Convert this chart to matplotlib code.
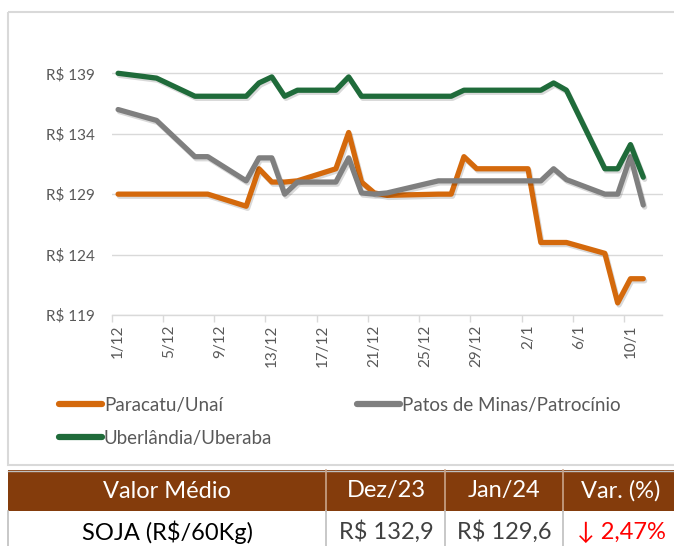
import pandas as pd
import matplotlib.pyplot as plt
import matplotlib.patheffects as pe
from matplotlib.lines import Line2D
from matplotlib.patches import Rectangle

# business days with quotes (Dec/23 - Jan/24)
dias = ["2023-12-01", "2023-12-04", "2023-12-05", "2023-12-06", "2023-12-07", "2023-12-08",
        "2023-12-11", "2023-12-12", "2023-12-13", "2023-12-14", "2023-12-15",
        "2023-12-18", "2023-12-19", "2023-12-20", "2023-12-21", "2023-12-22",
        "2023-12-26", "2023-12-27", "2023-12-28", "2023-12-29",
        "2024-01-02", "2024-01-03", "2024-01-04", "2024-01-05",
        "2024-01-08", "2024-01-09", "2024-01-10", "2024-01-11"]

paracatu = [129.0, 129.0, 129.0, 129.0, 129.0, 129.0,
            128.0, 131.1, 130.0, 130.0, 130.1,
            131.1, 134.1, 130.0, 129.1, 128.9,
            129.0, 129.0, 132.1, 131.1,
            131.1, 125.0, 125.0, 125.0,
            124.1, 120.0, 122.0, 122.0]

patos = [136.0, 135.1, 134.1, 133.1, 132.1, 132.1,
         130.1, 132.0, 132.0, 129.0, 130.0,
         130.0, 132.0, 129.1, 129.0, 129.1,
         130.1, 130.1, 130.1, 130.1,
         130.1, 130.1, 131.1, 130.2,
         129.0, 129.0, 132.1, 128.1]

uberlandia = [139.0, 138.6, 138.1, 137.6, 137.1, 137.1,
              137.1, 138.2, 138.7, 137.1, 137.6,
              137.6, 138.7, 137.1, 137.1, 137.1,
              137.1, 137.1, 137.6, 137.6,
              137.6, 137.6, 138.2, 137.6,
              131.1, 131.1, 133.1, 130.4]

yticks = [119, 124, 129, 134, 139]
xlabels = ["1/12", "5/12", "9/12", "13/12", "17/12", "21/12", "25/12", "29/12", "2/1", "6/1", "10/1"]

tab_header = ["Valor Médio", "Dez/23", "Jan/24", "Var. (%)"]
tab_row = ["SOJA (R$/60Kg)", "R$ 132,9", "R$ 129,6", "↓ 2,47%"]

inicio = pd.Timestamp("2023-12-01")
x = (pd.to_datetime(dias) - inicio).days.values
ndias = 43  # 1/12 .. 12/1

plt.rcParams["font.family"] = ["Lato", "DejaVu Sans"]

W, H = 674, 546
fig = plt.figure(figsize=(W / 100, H / 100), dpi=100)

# background layer in pixel coords (frame + table)
bg = fig.add_axes([0, 0, 1, 1], zorder=0)
bg.set_xlim(0, W)
bg.set_ylim(H, 0)
bg.axis("off")
bg.add_patch(Rectangle((8, 12), W + 10, 453, fill=False, ec="#d9d9d9", lw=1.5))

brown = "#843c0c"
cols = [8, 326, 445, 563, W + 10]
centers = [167, 386, 504, 621]
bg.add_patch(Rectangle((8, 470), W, 41, fc=brown, ec="none"))
bg.plot([8, W], [470.5, 470.5], color="#bfbfbf", lw=1)
for cx in cols[1:4]:
    bg.plot([cx, cx], [470, 511], color="#c9a48a", lw=1.2)
    bg.plot([cx, cx], [511, H], color="#bfbfbf", lw=1.2)
bg.plot([8, 8], [511, H], color="#bfbfbf", lw=1.2)
for i, txt in enumerate(tab_header):
    bg.text(centers[i], 491, txt, color="white", fontsize=17, ha="center", va="center")
row_colors = ["black", "#404040", "#404040", "#ff0000"]
for i, txt in enumerate(tab_row):
    bg.text(centers[i], 532, txt, color=row_colors[i], fontsize=17, ha="center", va="center")

# chart
x0, x1 = 111.7, 662.5
ax = fig.add_axes([x0 / W, 1 - 315 / H, (x1 - x0) / W, (315 - 61.2) / H], zorder=1)
ax.patch.set_alpha(0)

series = [(paracatu, "#d4690c", "Paracatu/Unaí"),
          (patos, "#7f7f7f", "Patos de Minas/Patrocínio"),
          (uberlandia, "#1f6b3a", "Uberlândia/Uberaba")]
for vals, cor, nome in series:
    ax.plot(x, vals, color=cor, lw=3.8, solid_joinstyle="round", solid_capstyle="round",
            label=nome, path_effects=[pe.SimpleLineShadow(offset=(1, -1.5), alpha=0.15), pe.Normal()])

ax.set_xlim(-0.5, ndias - 0.5)
ax.set_ylim(119, 140)
ax.set_yticks(yticks)
ax.set_yticklabels([f"R$ {v}" for v in yticks])
ax.set_xticks(range(0, 41, 4))
ax.set_xticklabels(xlabels, rotation=90, va="top")
ax.set_xticks([v - 0.5 for v in range(0, 41, 4)], minor=True)
ax.tick_params(axis="x", which="major", length=0, pad=7, labelsize=11, labelcolor="#595959")
ax.tick_params(axis="x", which="minor", length=5, color="#d9d9d9", width=1)
ax.tick_params(axis="y", length=0, pad=12, labelsize=11, labelcolor="#595959")
ax.grid(axis="y", color="#d9d9d9", lw=1)
ax.set_axisbelow(True)
for s in ["top", "right", "left"]:
    ax.spines[s].set_visible(False)
ax.spines["bottom"].set_color("#d9d9d9")
ax.spines["bottom"].set_linewidth(1)

leg_h = [Line2D([], [], color=c, lw=4.5, solid_capstyle="round") for _, c, _ in series]
ordem = [0, 2, 1]
fig.legend([leg_h[i] for i in ordem], [series[i][2] for i in ordem], ncol=2, frameon=False,
           loc="upper left", bbox_to_anchor=(42 / W, 1 - 380 / H), fontsize=13.5,
           handlelength=2.3, handletextpad=0.1, columnspacing=4.5, labelspacing=0.85,
           labelcolor="#595959")

fig.savefig("out.png", dpi=100, facecolor="white")
